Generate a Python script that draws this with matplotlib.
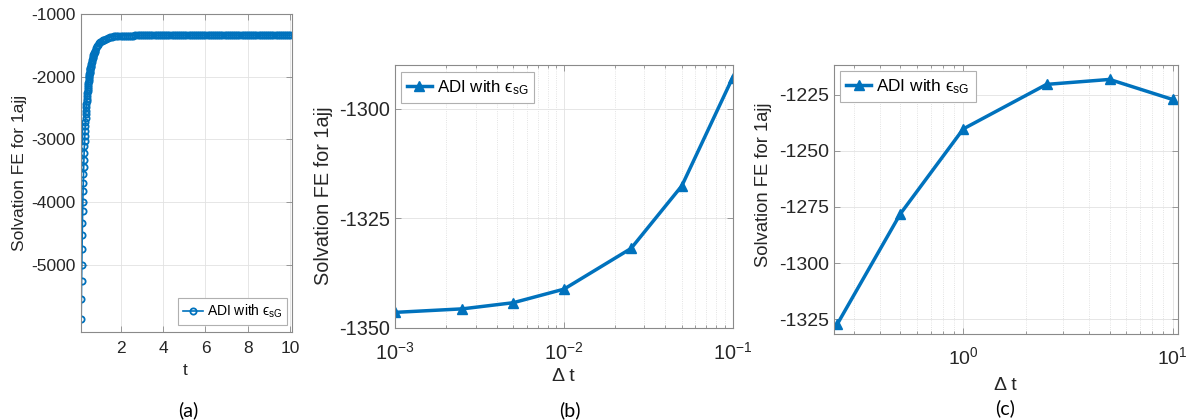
import matplotlib
matplotlib.use('Agg')
import matplotlib.pyplot as plt
from matplotlib.ticker import LogLocator, NullFormatter

plt.rcParams['font.family'] = ['Liberation Sans', 'DejaVu Sans']
plt.rcParams['axes.unicode_minus'] = False
plt.rcParams['mathtext.fontset'] = 'custom'
plt.rcParams['mathtext.rm'] = 'Liberation Sans'
plt.rcParams['mathtext.it'] = 'Liberation Sans:italic'
plt.rcParams['mathtext.bf'] = 'Liberation Sans:bold'

blue = '#0072BD'
txt = '#262626'
box = '#8a8a8a'

# (a) solvation FE vs time
t_a = [0.13, 0.14, 0.15, 0.16, 0.17, 0.18, 0.19, 0.20, 0.21, 0.22, 0.23, 0.24,
       0.25, 0.26, 0.27, 0.28, 0.29, 0.30, 0.31, 0.32, 0.33, 0.34, 0.35, 0.36,
       0.37, 0.38, 0.39, 0.40, 0.41, 0.42, 0.43, 0.44, 0.45, 0.46, 0.47, 0.48,
       0.49, 0.50, 0.51, 0.52, 0.53, 0.54, 0.55, 0.56, 0.57, 0.58, 0.59, 0.60,
       0.62, 0.64, 0.66, 0.68, 0.70, 0.72, 0.74, 0.76, 0.78, 0.80,
       0.85, 0.90, 0.95, 1.00, 1.05, 1.10, 1.15, 1.20,
       1.3, 1.4, 1.5, 1.6, 1.7, 1.8, 1.9, 2.0,
       2.1, 2.2, 2.3, 2.4, 2.5, 2.6, 2.7, 2.8, 2.9, 3.0,
       3.1, 3.2, 3.3, 3.4, 3.5, 3.6, 3.7, 3.8, 3.9, 4.0,
       4.1, 4.2, 4.3, 4.4, 4.5, 4.6, 4.7, 4.8, 4.9, 5.0,
       5.1, 5.2, 5.3, 5.4, 5.5, 5.6, 5.7, 5.8, 5.9, 6.0,
       6.1, 6.2, 6.3, 6.4, 6.5, 6.6, 6.7, 6.8, 6.9, 7.0,
       7.1, 7.2, 7.3, 7.4, 7.5, 7.6, 7.7, 7.8, 7.9, 8.0,
       8.1, 8.2, 8.3, 8.4, 8.5, 8.6, 8.7, 8.8, 8.9, 9.0,
       9.1, 9.2, 9.3, 9.4, 9.5, 9.6, 9.7, 9.8, 9.9, 10.0]
fe_a = [-6230, -5865, -5540, -5252, -5000, -4750, -4530, -4327, -4141, -3997, -3821, -3686,
        -3558, -3446, -3329, -3216, -3109, -3019, -2939, -2859, -2788, -2724, -2660, -2591,
        -2538, -2487, -2438, -2392, -2348, -2306, -2266, -2228, -2192, -2158, -2126, -2095,
        -2066, -2038, -2011, -1986, -1962, -1939, -1917, -1896, -1876, -1857, -1839, -1822,
        -1789, -1758, -1730, -1704, -1680, -1658, -1637, -1618, -1600, -1583,
        -1546, -1515, -1489, -1467, -1448, -1432, -1418, -1406,
        -1390, -1378, -1369, -1362, -1357, -1353, -1350, -1348,
        -1346, -1345, -1344, -1343, -1342.5, -1342, -1341.5, -1341, -1340.5, -1340,
        -1340, -1339.5, -1339.5, -1339.5, -1339, -1339, -1339, -1339, -1339, -1339,
        -1339, -1339, -1339, -1339, -1338.5, -1338.5, -1338.5, -1338.5, -1338.5, -1338,
        -1338, -1338, -1338, -1338, -1338, -1338, -1338, -1338, -1338, -1338,
        -1337.5, -1337.5, -1337.5, -1337.5, -1337.5, -1337.5, -1337.5, -1337.5, -1337.5, -1337.5,
        -1337.5, -1337.5, -1337.5, -1337.5, -1337, -1337, -1337, -1337, -1337, -1337,
        -1337, -1337, -1337, -1337, -1337, -1337, -1337, -1337, -1337, -1337,
        -1337, -1337, -1337, -1337, -1337, -1337, -1337, -1337, -1337, -1337]

# (b) FE vs time step, small dt
dt_b = [1e-3, 2.5e-3, 5e-3, 1e-2, 2.5e-2, 5e-2, 1e-1]
fe_b = [-1346.5, -1345.7, -1344.3, -1341.2, -1331.9, -1317.6, -1292.9]

# (c) FE vs time step, large dt
dt_c = [0.25, 0.5, 1, 2.5, 5, 10]
fe_c = [-1327.1, -1278.1, -1240.3, -1220.5, -1218.3, -1227.2]

leg_label = 'ADI with \u03f5$_{\\mathrm{sG}}$'
ylab = 'Solvation FE for 1ajj'


def style(ax, fs, xpad):
    for s in ax.spines.values():
        s.set_color(box)
        s.set_linewidth(0.8)
    ax.tick_params(which='both', direction='in', top=True, right=True,
                   color=box, labelcolor=txt, labelsize=fs, width=0.6)
    ax.tick_params(which='major', length=4)
    ax.tick_params(which='minor', length=2)
    ax.tick_params(axis='x', which='both', pad=xpad)
    ax.grid(True, which='major', color='#e2e2e2', lw=0.6)
    ax.set_axisbelow(True)


def legend(ax, loc, anchor, fs):
    lg = ax.legend(loc=loc, bbox_to_anchor=anchor, borderaxespad=0,
                   handlelength=1.45, fancybox=False, framealpha=1,
                   edgecolor='#b0b0b0', borderpad=0.35, handletextpad=0.3,
                   prop={'family': ['Liberation Sans', 'DejaVu Sans'], 'size': fs})
    lg.get_frame().set_linewidth(0.8)


fig = plt.figure(figsize=(11.87, 4.2), dpi=100)

# ---- (a)
ax1 = fig.add_axes([0.068, 0.2095, 0.1784, 0.757])
ax1.plot(t_a, fe_a, '-o', color=blue, lw=1.2, ms=4.5, mfc='none', mew=1.3,
         label=leg_label)
ax1.set_xlim(0.12, 10.1)
ax1.set_ylim(-6070, -1000)
ax1.set_xticks([2, 4, 6, 8, 10])
ax1.set_yticks([-5000, -4000, -3000, -2000, -1000])
style(ax1, 12.5, 6.5)
ax1.set_xlabel('t', fontsize=12.5, color=txt)
ax1.xaxis.label.set_va('center')
ax1.xaxis.set_label_coords(0.4924, -0.1195)
ax1.set_ylabel(ylab, fontsize=12.5, color=txt)
ax1.yaxis.label.set_va('center')
ax1.yaxis.set_label_coords(-0.291, 0.499)
legend(ax1, 'lower right', (0.9755, 0.022), 10)

# ---- (b)
ax2 = fig.add_axes([0.333, 0.2198, 0.2842, 0.6255])
ax2.plot(dt_b, fe_b, '-^', color=blue, lw=2.5, ms=7, label=leg_label)
ax2.set_xscale('log')
ax2.set_xlim(1e-3, 1e-1)
ax2.set_ylim(-1350, -1290)
ax2.set_yticks([-1350, -1325, -1300])
ax2.xaxis.set_minor_locator(LogLocator(base=10, subs=range(2, 10), numticks=20))
ax2.xaxis.set_minor_formatter(NullFormatter())
style(ax2, 14.3, 10)
ax2.grid(True, which='minor', axis='x', color='#dadada', lw=0.6, ls=':')
ax2.set_xlabel('\u0394 t', fontsize=14, color=txt)
ax2.xaxis.label.set_va('center')
ax2.xaxis.set_label_coords(0.498, -0.1865)
ax2.set_ylabel(ylab, fontsize=14.3, color=txt)
ax2.yaxis.label.set_va('center')
ax2.yaxis.set_label_coords(-0.2113, 0.501)
legend(ax2, 'upper left', (0.0178, 0.972), 12.2)

# ---- (c)
ax3 = fig.add_axes([0.7026, 0.2048, 0.2901, 0.6398])
ax3.plot(dt_c, fe_c, '-^', color=blue, lw=2.5, ms=7, label=leg_label)
ax3.set_xscale('log')
ax3.set_xlim(0.241, 10.66)
ax3.set_ylim(-1331.5, -1212)
ax3.set_yticks([-1325, -1300, -1275, -1250, -1225])
ax3.xaxis.set_minor_locator(LogLocator(base=10, subs=range(2, 10), numticks=20))
ax3.xaxis.set_minor_formatter(NullFormatter())
style(ax3, 14, 9)
ax3.grid(True, which='minor', axis='x', color='#dadada', lw=0.6, ls=':')
ax3.set_xlabel('\u0394 t', fontsize=14, color=txt)
ax3.xaxis.label.set_va('center')
ax3.xaxis.set_label_coords(0.4965, -0.19)
ax3.set_ylabel(ylab, fontsize=13.2, color=txt)
ax3.yaxis.label.set_va('center')
ax3.yaxis.set_label_coords(-0.206, 0.5545)
legend(ax3, 'upper left', (0.0183, 0.9777), 12.4)

# panel letters
for xp, yp, lab in [(188, 410, '(a)'), (570, 410, '(b)'), (1005, 408, '(c)')]:
    fig.text(xp / 1187, 1 - yp / 420, lab, fontsize=14, family=['Lato', 'DejaVu Sans'],
             ha='center', va='center', color='black')

fig.savefig('out.png', dpi=100)
